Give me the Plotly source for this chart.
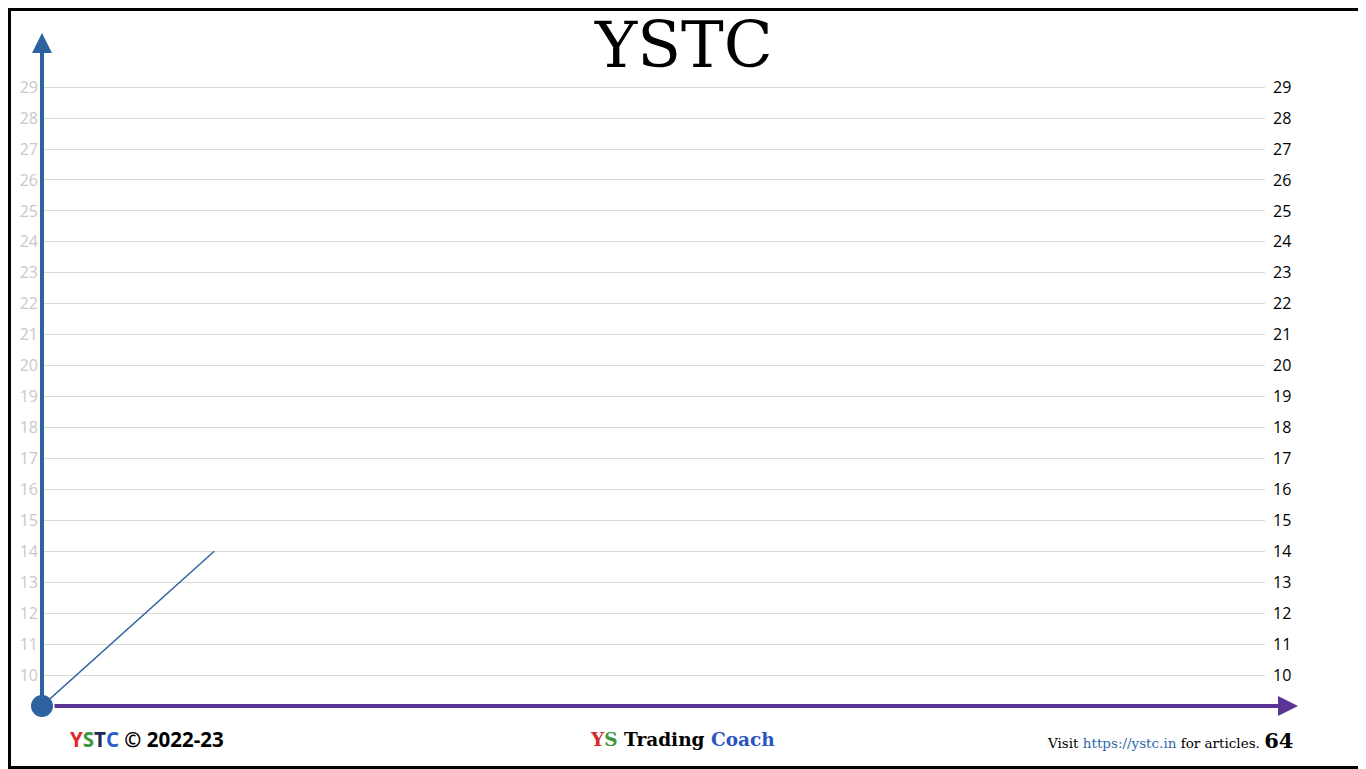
import plotly.graph_objects as go

# data
x_vals = [0, 5]
y_vals = [9, 14]
y_ticks = list(range(10, 30))
y_min = 9
y_max = 30.75
x_min = 0
x_max = 35.5

# page has an 8px body margin, so the figure is a bit smaller and shifted
OFF = 8
W, H = 1366 - OFF, 769 - OFF
blue = "#2d62a0"
purple = "#5a3596"

fig = go.Figure()

fig.add_trace(go.Scatter(x=x_vals, y=y_vals, mode="lines",
                         line=dict(color=blue, width=1.5),
                         hoverinfo="skip", showlegend=False))
# origin dot
fig.add_trace(go.Scatter(x=x_vals[:1], y=y_vals[:1], mode="markers",
                         marker=dict(color=blue, size=22),
                         cliponaxis=False, hoverinfo="skip", showlegend=False))
# dummy for right axis
fig.add_trace(go.Scatter(x=x_vals, y=y_vals, yaxis="y2", mode="lines",
                         line=dict(width=0), hoverinfo="skip", showlegend=False))

def px(x):
    return (x - OFF) / W

def py(y):
    return 1 - (y - OFF) / H

fig.update_layout(
    width=W, height=H,
    margin=dict(l=0, r=0, t=0, b=0),
    plot_bgcolor="white", paper_bgcolor="white",
    xaxis=dict(domain=[px(42), px(1265)], range=[x_min, x_max],
               showgrid=False, zeroline=False, showline=False,
               showticklabels=False, ticks=""),
    yaxis=dict(domain=[py(706), py(33)], range=[y_min, y_max],
               tickvals=y_ticks, showgrid=True, gridcolor="#d9d9d9", gridwidth=1,
               zeroline=False, showline=False, ticks="", ticklabelstandoff=3,
               tickfont=dict(family="Open Sans", size=16, color="#c8c8c8")),
    yaxis2=dict(overlaying="y", side="right", range=[y_min, y_max],
                tickvals=y_ticks, showgrid=False, zeroline=False, showline=False,
                ticks="", ticklabelstandoff=7,
                tickfont=dict(family="Open Sans", size=16, color="black")),
)

# axis arrows
fig.add_annotation(x=px(42), y=py(33), xref="paper", yref="paper",
                   ax=0, ay=673, showarrow=True, arrowhead=2, arrowsize=1,
                   arrowwidth=4, arrowcolor=blue, text="")
fig.add_annotation(x=px(1298), y=py(706), xref="paper", yref="paper",
                   ax=-1245, ay=0, showarrow=True, arrowhead=2, arrowsize=1,
                   arrowwidth=4, arrowcolor=purple, text="")

# title
fig.add_annotation(x=px(683), y=py(45), xref="paper", yref="paper", showarrow=False,
                   xanchor="center", yanchor="middle",
                   text="YSTC", font=dict(family="DejaVu Serif", size=64, color="black"))

# footer
fig.add_annotation(x=px(68), y=py(739), xref="paper", yref="paper", showarrow=False,
                   xanchor="left", yanchor="middle",
                   text="<b><span style='color:#e0262c'>Y</span><span style='color:#3c9a3c'>S</span>"
                        "<span style='color:#1c2a50'>T</span><span style='color:#2a5cc8'>C</span>"
                        " © 2022-23</b>",
                   font=dict(family="Open Sans", size=20.5, color="black"))
fig.add_annotation(x=px(682), y=py(739), xref="paper", yref="paper", showarrow=False,
                   xanchor="center", yanchor="middle",
                   text="<b><span style='color:#d42a2a'>Y</span><span style='color:#3c9a3c'>S</span>"
                        " Trading <span style='color:#2a55c0'>Coach</span></b>",
                   font=dict(family="DejaVu Serif", size=18.5, color="black"))
fig.add_annotation(x=px(1295), y=py(740), xref="paper", yref="paper", showarrow=False,
                   xanchor="right", yanchor="middle",
                   text="Visit <span style='color:#2e6aa8'>https://ystc.in</span> for articles. "
                        "<b><span style='font-size:21px'>64</span></b>",
                   font=dict(family="DejaVu Serif", size=13.5, color="black"))

# frame
fig.add_shape(type="rect", xref="paper", yref="paper", x0=0, y0=0, x1=1, y1=1,
              line=dict(color="black", width=6))

fig.write_html("out.html")
